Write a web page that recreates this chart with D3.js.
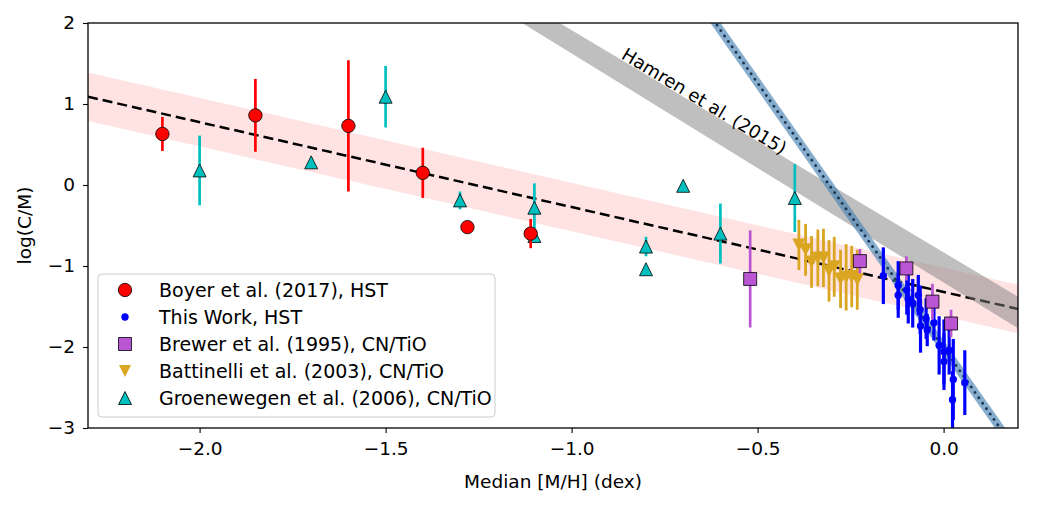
<!DOCTYPE html>
<html>
<head>
<meta charset="utf-8">
<script src="https://cdn.jsdelivr.net/npm/d3@7"></script>
<style>
  body { margin: 0; background: #fff; }
  text { font-family: "DejaVu Sans", sans-serif; fill: #000; }
</style>
</head>
<body>
<div id="chart"></div>
<script>
// axis ranges and ticks
const xDomain = [-2.3, 0.2];
const yDomain = [-3, 2];
const xTicks = [-2.0, -1.5, -1.0, -0.5, 0.0];
const yTicks = [-3, -2, -1, 0, 1, 2];

// Boyer et al. (2017), HST
const boyerX = [-2.10, -1.85, -1.60, -1.40, -1.28, -1.11];
const boyerY = [0.63, 0.86, 0.73, 0.15, -0.52, -0.60];
const boyerErr = [0.21, 0.45, 0.81, 0.31, 0.0, 0.18];

// This Work, HST
const workX = [-0.162, -0.122, -0.122, -0.099, -0.095, -0.083, -0.068, -0.063, -0.062, -0.047,
  -0.044, -0.026, -0.012, 0.001, 0.001, 0.015, 0.026, 0.024, 0.057];
const workY = [-1.12, -1.24, -1.36, -1.30, -1.41, -1.46, -1.36, -1.54, -1.74, -1.65,
  -1.79, -1.70, -1.98, -2.06, -2.18, -2.04, -2.40, -2.65, -2.44];
const workErr = [0.35, 0.30, 0.28, 0.30, 0.30, 0.30, 0.25, 0.30, 0.33, 0.25,
  0.20, 0.22, 0.36, 0.40, 0.35, 0.30, 0.50, 0.35, 0.40];

// Brewer et al. (1995), CN/TiO
const brewerX = [-0.52, -0.225, -0.10, -0.03, 0.02];
const brewerY = [-1.16, -0.94, -1.03, -1.44, -1.71];
const brewerErr = [0.60, 0.15, 0.15, 0.22, 0.17];

// Battinelli et al. (2003), CN/TiO
const batX = [-0.389, -0.371, -0.355, -0.338, -0.323, -0.308, -0.294, -0.277, -0.262, -0.247, -0.232];
const batY = [-0.74, -0.80, -0.95, -0.90, -0.90, -1.06, -1.01, -1.16, -1.14, -1.13, -1.17];
const batErr = [0.31, 0.32, 0.32, 0.35, 0.36, 0.38, 0.37, 0.36, 0.41, 0.38, 0.37];

// Groenewegen et al. (2006), CN/TiO
const groeX = [-2.0, -1.7, -1.5, -1.3, -1.1, -1.1, -0.8, -0.8, -0.7, -0.6, -0.4];
const groeY = [0.18, 0.28, 1.09, -0.19, -0.28, -0.63, -0.76, -1.04, -0.01, -0.60, -0.16];
const groeErr = [0.43, 0.05, 0.38, 0.11, 0.30, 0.0, 0.12, 0.0, 0.0, 0.37, 0.42];

// fit across all (dashed) with its band
const fitX = [-2.3, 0.2];
const fitY = [1.09, -1.53];
const fitHalf = 0.30;

// Hamren et al. (2015) band edges
const hamrenX = [-1.2, 0.2];
const hamrenLo = [2.19, -1.77];
const hamrenHi = [2.46, -1.38];

// this work fit (steep blue)
const workFitX = [-0.65, 0.19];
const workFitY = [2.24, -3.25];
const workFitHalf = 0.09;

const legendLabels = [
  'Boyer et al. (2017), HST',
  'This Work, HST',
  'Brewer et al. (1995), CN/TiO',
  'Battinelli et al. (2003), CN/TiO',
  'Groenewegen et al. (2006), CN/TiO'
];

const width = 1042, height = 506;
const margin = { top: 23, right: 24, bottom: 78, left: 88 };

const svg = d3.select('#chart').append('svg')
  .attr('width', width).attr('height', height);

const x = d3.scaleLinear().domain(xDomain).range([margin.left, width - margin.right]);
const y = d3.scaleLinear().domain(yDomain).range([height - margin.bottom, margin.top]);

svg.append('clipPath').attr('id', 'clip')
  .append('rect')
  .attr('x', margin.left).attr('y', margin.top)
  .attr('width', width - margin.left - margin.right)
  .attr('height', height - margin.top - margin.bottom);

const plot = svg.append('g').attr('clip-path', 'url(#clip)');

const zip = (xs, ys) => xs.map((v, i) => [v, ys[i]]);

// band helper: lower edge forward, upper edge backward
const band = (xs, lo, hi) => {
  const pts = zip(xs, lo).concat(zip(xs, hi).reverse());
  return 'M' + pts.map(p => `${x(p[0])},${y(p[1])}`).join('L') + 'Z';
};

// pink band
plot.append('path')
  .attr('d', band(fitX, fitY.map(v => v - fitHalf), fitY.map(v => v + fitHalf)))
  .attr('fill', 'red').attr('fill-opacity', 0.11);

const line = d3.line().x(d => x(d[0])).y(d => y(d[1]));

// dashed fit
plot.append('path')
  .datum(zip(fitX, fitY))
  .attr('d', line)
  .attr('fill', 'none').attr('stroke', '#000')
  .attr('stroke-width', 2.5).attr('stroke-dasharray', '10,5');

// Hamren band
plot.append('path')
  .attr('d', band(hamrenX, hamrenLo, hamrenHi))
  .attr('fill', 'grey').attr('fill-opacity', 0.5);

// this work band + dotted line
plot.append('path')
  .attr('d', band(workFitX, workFitY.map(v => v - workFitHalf), workFitY.map(v => v + workFitHalf)))
  .attr('fill', 'steelblue').attr('fill-opacity', 0.65);

plot.append('path')
  .datum(zip(workFitX, workFitY))
  .attr('d', line)
  .attr('fill', 'none').attr('stroke', '#1c3550')
  .attr('stroke-width', 2.8).attr('stroke-linecap', 'round')
  .attr('stroke-dasharray', '0.1,6.5');

// marker paths
const triUp = s => `M0,${-s / 2}L${s / 2},${s / 2}L${-s / 2},${s / 2}Z`;
const triDown = s => `M0,${s / 2}L${s / 2},${-s / 2}L${-s / 2},${-s / 2}Z`;
const square = s => `M${-s / 2},${-s / 2}h${s}v${s}h${-s}Z`;
const circle = r => `M${r},0A${r},${r} 0 1,1 ${-r},0A${r},${r} 0 1,1 ${r},0Z`;

const drawSeries = (xs, ys, errs, color, errW, markerPath, fill, edge) => {
  const g = plot.append('g');
  const pts = xs.map((v, i) => ({ x: v, y: ys[i], e: errs[i] }));
  g.selectAll('line.err').data(pts.filter(d => d.e > 0)).join('line')
    .attr('x1', d => x(d.x)).attr('x2', d => x(d.x))
    .attr('y1', d => y(d.y - d.e)).attr('y2', d => y(d.y + d.e))
    .attr('stroke', color).attr('stroke-width', errW);
  g.selectAll('path.mk').data(pts).join('path')
    .attr('transform', d => `translate(${x(d.x)},${y(d.y)})`)
    .attr('d', markerPath)
    .attr('fill', fill)
    .attr('stroke', edge || 'none').attr('stroke-width', 0.8);
};

drawSeries(groeX, groeY, groeErr, '#00bfbf', 2.7, triUp(13), '#00bfbf', '#000');
drawSeries(batX, batY, batErr, '#daa520', 2.8, triDown(13), '#daa520', null);
drawSeries(workX, workY, workErr, '#0000ff', 3.2, circle(3.7), '#0000ff', null);
drawSeries(brewerX, brewerY, brewerErr, '#ba55d3', 2.7, square(13), '#ba55d3', '#000');
drawSeries(boyerX, boyerY, boyerErr, '#ff0000', 2.7, circle(6.7), '#ff0000', '#000');

// Hamren label
svg.append('text')
  .attr('transform', `translate(${x(-0.645)},${y(1.02)}) rotate(31)`)
  .attr('text-anchor', 'middle')
  .attr('dominant-baseline', 'middle')
  .style('font-size', '18px')
  .text('Hamren et al. (2015)');

// axes
const fmt = d => (d < 0 ? '\u2212' : '') + Math.abs(d).toFixed(1);
const xAxis = svg.append('g')
  .attr('transform', `translate(0,${height - margin.bottom})`)
  .call(d3.axisBottom(x).tickValues(xTicks).tickFormat(fmt).tickSize(5).tickPadding(9));
const yAxis = svg.append('g')
  .attr('transform', `translate(${margin.left},0)`)
  .call(d3.axisLeft(y).tickValues(yTicks).tickFormat(d => (d < 0 ? '\u2212' : '') + Math.abs(d)).tickSize(5).tickPadding(8));
[xAxis, yAxis].forEach(a => {
  a.select('.domain').remove();
  a.selectAll('line').attr('stroke', '#000').attr('stroke-width', 1.1);
  a.selectAll('text').style('font-size', '18.5px').style('font-family', '"DejaVu Sans", sans-serif');
});

// frame
svg.append('rect')
  .attr('x', margin.left).attr('y', margin.top)
  .attr('width', width - margin.left - margin.right)
  .attr('height', height - margin.top - margin.bottom)
  .attr('fill', 'none').attr('stroke', '#000').attr('stroke-width', 1.3);

// axis labels
svg.append('text')
  .attr('x', (margin.left + width - margin.right) / 2)
  .attr('y', 488)
  .attr('text-anchor', 'middle')
  .style('font-size', '18.5px')
  .text('Median [M/H] (dex)');

svg.append('text')
  .attr('transform', `translate(31,${(margin.top + height - margin.bottom) / 2}) rotate(-90)`)
  .attr('text-anchor', 'middle')
  .style('font-size', '18.5px')
  .text('log(C/M)');

// legend
const legend = svg.append('g').attr('transform', 'translate(98,274)');
legend.append('rect')
  .attr('width', 397).attr('height', 143)
  .attr('rx', 4)
  .attr('fill', '#fff').attr('fill-opacity', 0.8)
  .attr('stroke', '#cccccc').attr('stroke-width', 1);

const legendMarkers = [
  { d: circle(6.7), fill: '#ff0000', edge: '#000' },
  { d: circle(3.7), fill: '#0000ff', edge: null },
  { d: square(13), fill: '#ba55d3', edge: '#000' },
  { d: triDown(12), fill: '#daa520', edge: null },
  { d: triUp(13), fill: '#00bfbf', edge: '#000' }
];

legendLabels.forEach((lab, i) => {
  const row = legend.append('g').attr('transform', `translate(0,${16 + i * 27})`);
  row.append('path')
    .attr('transform', 'translate(27,0)')
    .attr('d', legendMarkers[i].d)
    .attr('fill', legendMarkers[i].fill)
    .attr('stroke', legendMarkers[i].edge || 'none').attr('stroke-width', 0.8);
  row.append('text')
    .attr('x', 61).attr('y', 0)
    .attr('dy', '0.35em')
    .style('font-size', '19px')
    .text(lab);
});
</script>
</body>
</html>
